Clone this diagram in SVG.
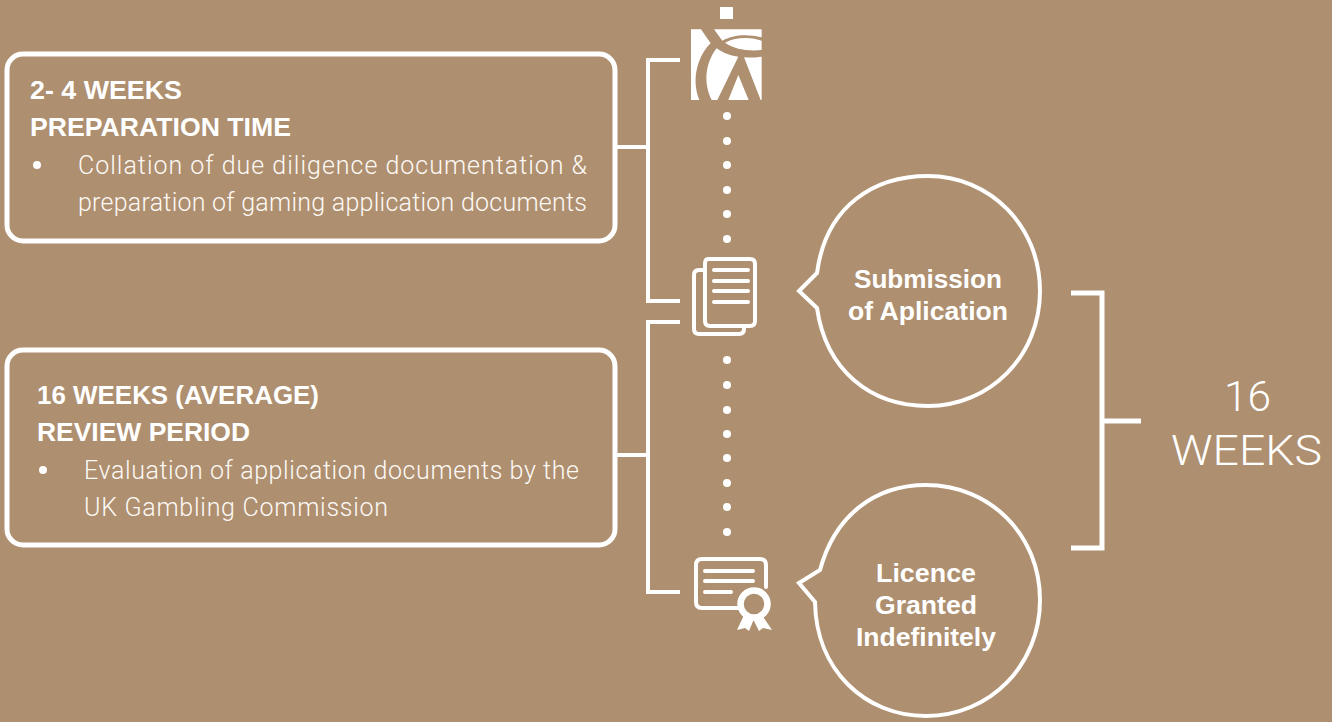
<svg xmlns="http://www.w3.org/2000/svg" width="1332" height="722" viewBox="0 0 1332 722">
<style>
.ln{fill:none;stroke:#fff;stroke-width:4}
.box{fill:none;stroke:#fff;stroke-width:5}
.ic{fill:none;stroke:#fff;stroke-width:4;stroke-linecap:round;stroke-linejoin:round}
text{font-family:"Liberation Sans",Arial,sans-serif;fill:#fff}
.h{font-size:25px;font-weight:700}
.b{font-size:25px;fill:#fdf9f5;font-family:Roboto,"Liberation Sans",sans-serif;font-weight:300}
.c{font-size:25px;font-weight:700;text-anchor:middle}
.w{font-size:43px;font-family:Roboto,"Liberation Sans",sans-serif;font-weight:300}
</style>
<rect width="1332" height="722" fill="#AE8F70"/>
<g id="connectors">
<path class="ln" d="M680 60H648V301H680M616 147H648"/>
<path class="ln" d="M680 322H648V592H680M616 455H648"/>
<path class="ln" d="M1071 293H1102V548H1071M1102 421H1141" style="stroke-width:5"/>
<g fill="#fff">
<circle cx="727" cy="116" r="4"/><circle cx="727" cy="141" r="4"/><circle cx="727" cy="165" r="4"/><circle cx="727" cy="190" r="4"/><circle cx="727" cy="214" r="4"/><circle cx="727" cy="239" r="4"/>
<circle cx="727" cy="360" r="4"/><circle cx="727" cy="385" r="4"/><circle cx="727" cy="410" r="4"/><circle cx="727" cy="434" r="4"/><circle cx="727" cy="458" r="4"/><circle cx="727" cy="483" r="4"/><circle cx="727" cy="507" r="4"/><circle cx="727" cy="532" r="4"/>
</g>
</g>
<g id="box-preparation">
<rect class="box" x="7" y="54" width="608" height="187" rx="16"/>
<text class="h" x="30" y="99" textLength="152" lengthAdjust="spacingAndGlyphs">2- 4 WEEKS</text>
<text class="h" x="30" y="136" textLength="261" lengthAdjust="spacingAndGlyphs">PREPARATION TIME</text>
<circle cx="37" cy="165" r="4" fill="#fff"/>
<text class="b" x="78" y="174" textLength="509" lengthAdjust="spacing">Collation of due diligence documentation &amp;</text>
<text class="b" x="78" y="211" textLength="509" lengthAdjust="spacing">preparation of gaming application documents</text>
</g>
<g id="box-review">
<rect class="box" x="7" y="350" width="608" height="195" rx="16"/>
<text class="h" x="37" y="404" textLength="282" lengthAdjust="spacingAndGlyphs">16 WEEKS (AVERAGE)</text>
<text class="h" x="37" y="441" textLength="213" lengthAdjust="spacingAndGlyphs">REVIEW PERIOD</text>
<circle cx="43" cy="470" r="4" fill="#fff"/>
<text class="b" x="84" y="479" textLength="495" lengthAdjust="spacing">Evaluation of application documents by the</text>
<text class="b" x="84" y="516" textLength="304" lengthAdjust="spacing">UK Gambling Commission</text>
</g>
<g id="logo">
<rect x="720" y="7" width="13" height="12" fill="#fff"/>
<g transform="translate(640 0) scale(.3333)" fill="#fff">
<path d="M153 88H183L212 130C180 160 150 230 178 300H153Z"/>
<path d="M230 145C250 160 275 168 295 170L232 300H215C190 250 195 190 230 145Z"/>
<path d="M295 225L326 300H265Z"/>
<path d="M312 172C330 174 350 172 365 170V300H362Z"/>
<path d="M222 88H365V112C320 100 275 105 247 122Z"/>
<path d="M255 128C290 108 340 112 365 122V150C320 155 280 145 255 128Z"/>
</g>
</g>
<g id="icon-document">
<path class="ic" d="M708 259H750Q755 259 755 264V321Q755 326 750 326H710Q705 326 705 321V264Q705 259 708 259Z"/>
<path class="ic" d="M705 270H699Q694 270 694 275V329Q694 334 699 334H739Q744 334 744 329V326"/>
<path class="ic" d="M714 270H748M714 281H748M714 291H748M714 302H748"/>
</g>
<g id="icon-certificate">
<path class="ic" d="M738 608H702Q696 608 696 602V565Q696 559 702 559H760Q766 559 766 565V587"/>
<path class="ic" d="M705 571H753M705 581H753M705 592H731"/>
<circle cx="754" cy="604" r="13.500" fill="none" stroke="#fff" stroke-width="6.500"/>
<path fill="#fff" d="M744 615L737 630L745 628L749 631L754 619ZM762 615L772 630L763 628L759 631L753 619Z"/>
</g>
<g id="node-submission">
<path class="ln" d="M817 273C826 205 875 176 928 176C990 176 1040 226 1040 291C1040 356 990 406 928 406C870 406 826 370 817 308L799 291Z"/>
<text class="c" x="928" y="288" textLength="148" lengthAdjust="spacingAndGlyphs">Submission</text>
<text class="c" x="928" y="320" textLength="160" lengthAdjust="spacingAndGlyphs">of Aplication</text>
</g>
<g id="node-licence">
<path class="ln" d="M820 570C835 515 875 485 926 485C990 485 1040 535 1040 600C1040 665 990 716 926 716C865 716 816 670 815 602L799 583Z"/>
<text class="c" x="926" y="582" textLength="100" lengthAdjust="spacingAndGlyphs">Licence</text>
<text class="c" x="926" y="614" textLength="102" lengthAdjust="spacingAndGlyphs">Granted</text>
<text class="c" x="926" y="646" textLength="140" lengthAdjust="spacingAndGlyphs">Indefinitely</text>
</g>
<g id="label-weeks">
<text class="w" x="1224" y="411" textLength="47" lengthAdjust="spacingAndGlyphs">16</text>
<text class="w" x="1171" y="465" textLength="151" lengthAdjust="spacingAndGlyphs">WEEKS</text>
</g>
</svg>
